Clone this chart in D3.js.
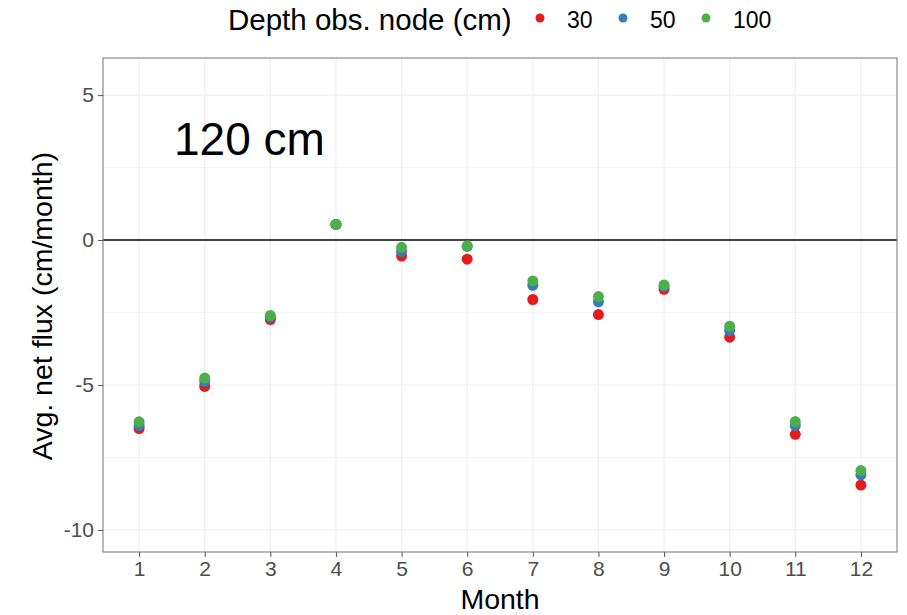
<!DOCTYPE html>
<html>
<head>
<meta charset="utf-8">
<script src="https://cdn.jsdelivr.net/npm/d3@7"></script>
<style>
  body { margin: 0; background: #fff; }
  text { font-family: "Liberation Sans", Arial, sans-serif; }
</style>
</head>
<body>
<div id="chart"></div>
<script>
// data
const months = [1, 2, 3, 4, 5, 6, 7, 8, 9, 10, 11, 12];
const depths = ["30", "50", "100"];
const flux30 = [-6.5, -5.05, -2.74, 0.54, -0.55, -0.66, -2.05, -2.57, -1.7, -3.35, -6.7, -8.45];
const flux50 = [-6.4, -4.88, -2.66, 0.54, -0.4, -0.22, -1.56, -2.13, -1.6, -3.12, -6.4, -8.1];
const flux100 = [-6.27, -4.76, -2.6, 0.54, -0.25, -0.2, -1.41, -1.95, -1.55, -2.97, -6.26, -7.95];
const yTicks = [-10, -5, 0, 5];
const yMinor = [-7.5, -2.5, 2.5];
const colors = ["#E41A1C", "#377EB8", "#4DAF4A"];

const series = [flux30, flux50, flux100];

const width = 907, height = 615;
const margin = {top: 58, right: 10, bottom: 63, left: 103};

const svg = d3.select("#chart").append("svg")
    .attr("width", width)
    .attr("height", height);

const x = d3.scaleLinear()
    .domain([0.45, 12.55])
    .range([margin.left, width - margin.right]);

const y = d3.scaleLinear()
    .domain([-10.76, 6.28])
    .range([height - margin.bottom, margin.top]);

// grid
const grid = svg.append("g");
grid.selectAll(".ymin").data(yMinor).enter().append("line")
    .attr("x1", x.range()[0]).attr("x2", x.range()[1])
    .attr("y1", d => y(d)).attr("y2", d => y(d))
    .attr("stroke", "#f5f5f5").attr("stroke-width", 1);
grid.selectAll(".xmaj").data(months).enter().append("line")
    .attr("x1", d => x(d)).attr("x2", d => x(d))
    .attr("y1", y.range()[0]).attr("y2", y.range()[1])
    .attr("stroke", "#efefef").attr("stroke-width", 1.2);
grid.selectAll(".ymaj").data(yTicks).enter().append("line")
    .attr("x1", x.range()[0]).attr("x2", x.range()[1])
    .attr("y1", d => y(d)).attr("y2", d => y(d))
    .attr("stroke", "#efefef").attr("stroke-width", 1.2);

// zero line
svg.append("line")
    .attr("x1", x.range()[0]).attr("x2", x.range()[1])
    .attr("y1", y(0)).attr("y2", y(0))
    .attr("stroke", "#444").attr("stroke-width", 2);

// points
series.forEach(function(vals, i) {
    svg.append("g").selectAll("circle")
        .data(months)
        .enter().append("circle")
        .attr("cx", d => x(d))
        .attr("cy", (d, j) => y(vals[j]))
        .attr("r", 5.5)
        .attr("fill", colors[i]);
});

// panel border
svg.append("rect")
    .attr("x", x.range()[0]).attr("y", y.range()[1])
    .attr("width", x.range()[1] - x.range()[0])
    .attr("height", y.range()[0] - y.range()[1])
    .attr("fill", "none").attr("stroke", "#8a8a8a").attr("stroke-width", 1.2);

// axes
const xAxis = svg.append("g")
    .attr("transform", "translate(0," + y.range()[0] + ")")
    .call(d3.axisBottom(x).tickValues(months).tickSize(5).tickPadding(4).tickFormat(d => String(d)));
const yAxis = svg.append("g")
    .attr("transform", "translate(" + x.range()[0] + ",0)")
    .call(d3.axisLeft(y).tickValues(yTicks).tickSize(5).tickPadding(4).tickFormat(d => String(d)));
[xAxis, yAxis].forEach(function(a) {
    a.select(".domain").remove();
    a.selectAll(".tick line").attr("stroke", "#555");
    a.selectAll(".tick text").attr("fill", "#4d4d4d").attr("font-size", 21)
        .attr("font-family", "Liberation Sans, Arial, sans-serif");
});

// titles
svg.append("text")
    .attr("x", x(6.5)).attr("y", 609)
    .attr("text-anchor", "middle").attr("font-size", 28.5)
    .text("Month");
svg.append("text")
    .attr("transform", "translate(52," + y(-2.28) + ") rotate(-90)")
    .attr("text-anchor", "middle").attr("font-size", 28.5)
    .text("Avg. net flux (cm/month)");

svg.append("text")
    .attr("x", 174).attr("y", 155)
    .attr("font-family", "Noto Sans, Open Sans, sans-serif")
    .attr("font-size", 46)
    .text("120 cm");

// legend
const legend = svg.append("g");
legend.append("text")
    .attr("x", 228).attr("y", 30)
    .attr("font-size", 29.5)
    .text("Depth obs. node (cm)");
const legX = [540, 623, 706];
depths.forEach(function(d, i) {
    legend.append("circle")
        .attr("cx", legX[i]).attr("cy", 18).attr("r", 4.5)
        .attr("fill", colors[i]);
    legend.append("text")
        .attr("x", legX[i] + 27).attr("y", 28)
        .attr("font-size", 23)
        .text(d);
});
</script>
</body>
</html>
